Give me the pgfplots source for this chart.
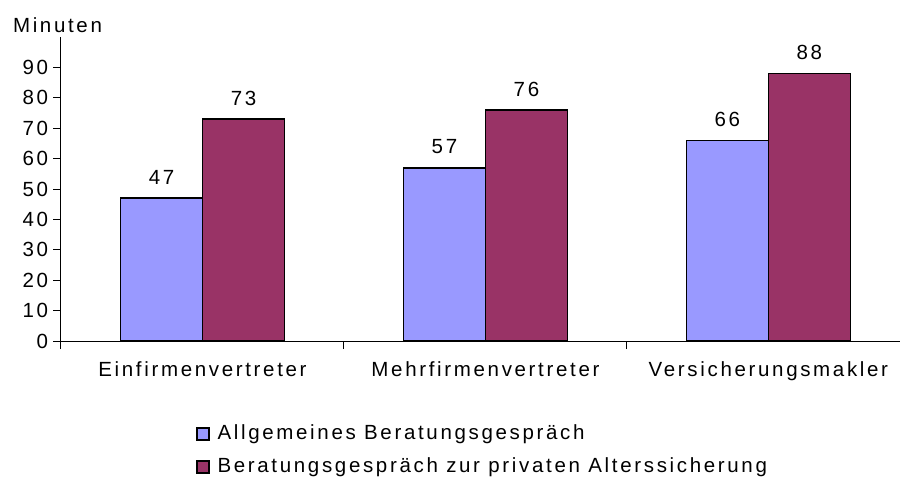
\documentclass[border=0pt]{standalone}
\usepackage{fontspec}
\setmainfont{Liberation Sans}[LetterSpace=13]
\usepackage{pgfplots}
\pgfplotsset{compat=1.18}
\definecolor{allg}{RGB}{153,153,255}
\definecolor{alter}{RGB}{153,51,102}

\begin{document}
\fontsize{20.5}{24}\selectfont
\begin{tikzpicture}
\begin{axis}[
    name=ax,
    scale only axis,
    width=839pt, height=304pt,
    ybar=0pt, bar width=82pt,
    xmin=-0.5, xmax=2.465,
    ymin=0, ymax=100,
    axis lines*=left,
    axis line style={line width=1pt},
    tick align=outside,
    every tick/.style={black, line width=1pt},
    major tick length=8pt,
    xtick={-0.5,0.5,1.5},
    xticklabels={},
    extra x ticks={0,1,2},
    extra x tick labels={Einfirmenvertreter, Mehrfirmenvertreter, Versicherungsmakler},
    extra x tick style={major tick length=0pt, tick label style={yshift=-14pt}},
    ytick={0,10,...,90},
    y tick label style={xshift=2pt},
    /pgf/number format/assume math mode=true,
    nodes near coords,
    every node near coord/.append style={black, yshift=6pt},
    legend style={at={(axis description cs:0.157,-0.262)}, anchor=north west,
        draw=none, fill=none, row sep=11pt,
        /tikz/every odd column/.append style={column sep=6pt}},
    legend cell align=left,
    legend image code/.code={\draw[#1] (0pt,-6pt) rectangle (12pt,6pt);},
]
\addplot[fill=allg, draw=black, line width=1.6pt] coordinates {(0,47) (1,57) (2,66)};
\addlegendentry{Allgemeines Beratungsgespräch}
\addplot[fill=alter, draw=black, line width=1.6pt] coordinates {(0,73) (1,76) (2,88)};
\addlegendentry{Beratungsgespräch zur  privaten Alterssicherung}
\end{axis}
\node[anchor=west] at ([xshift=-55pt,yshift=12pt]ax.north west) {Minuten};
\pgfresetboundingbox
\path[use as bounding box] ([xshift=-61pt,yshift=-136pt]ax.south west) rectangle ++(900pt,477pt);
\end{tikzpicture}
\end{document}
